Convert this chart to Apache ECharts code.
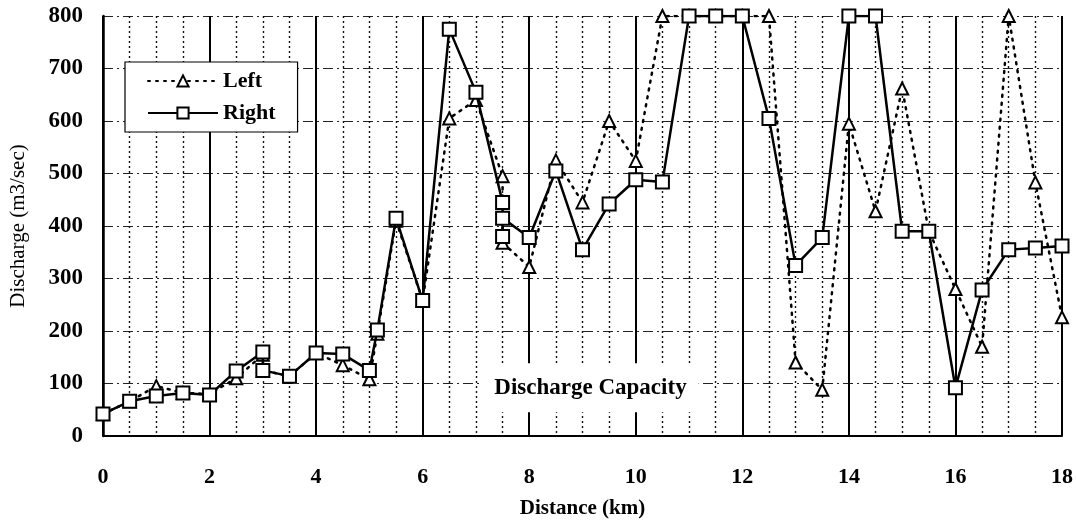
<!DOCTYPE html>
<html>
<head>
<meta charset="utf-8">
<script src="https://cdn.jsdelivr.net/npm/echarts@6/dist/echarts.min.js"></script>
<style>html,body{margin:0;padding:0;background:#fff;}#c{width:1076px;height:526px;}</style>
</head>
<body>
<div id="c"></div>
<script>
// Data
const leftDistance  = [0, 0.5, 1, 1.5, 2, 2.5, 3, 3, 3.5, 4, 4.5, 5, 5.15, 5.5, 6, 6.5, 7, 7.5, 7.5, 8, 8.5, 9, 9.5, 10, 10.5, 11, 11.5, 12, 12.5, 13, 13.5, 14, 14.5, 15, 15.5, 16, 16.5, 17, 17.5, 18];
const leftDischarge = [42, 66, 95, 82, 80, 110, 155, 125, 114, 158, 135, 108, 195, 410, 258, 605, 640, 495, 368, 322, 525, 445, 600, 524, 800, 800, 800, 800, 800, 140, 88, 595, 428, 662, 390, 280, 170, 800, 483, 226];
const rightDistance  = [0, 0.5, 1, 1.5, 2, 2.5, 3, 3, 3.5, 4, 4.5, 5, 5.15, 5.5, 6, 6.5, 7, 7.5, 7.5, 7.5, 8, 8.5, 9, 9.5, 10, 10.5, 11, 11.5, 12, 12.5, 13, 13.5, 14, 14.5, 15, 15.5, 16, 16.5, 17, 17.5, 18];
const rightDischarge = [42, 66, 76, 82, 78, 124, 160, 125, 114, 158, 156, 125, 202, 415, 258, 775, 655, 445, 380, 415, 378, 505, 355, 442, 488, 484, 800, 800, 800, 605, 325, 378, 800, 800, 390, 390, 92, 278, 355, 358, 362];
const seriesNames = ['Left', 'Right'];
const xTitle = 'Distance (km)';
const yTitle = 'Discharge (m3/sec)';
const noteText = 'Discharge Capacity';

const leftData = leftDistance.map((d, i) => [d, leftDischarge[i]]);
const rightData = rightDistance.map((d, i) => [d, rightDischarge[i]]);

const FONT = '"Liberation Serif", "DejaVu Serif", serif';
const chart = echarts.init(document.getElementById('c'), null, {renderer: 'canvas'});

chart.setOption({
  animation: false,
  backgroundColor: '#fff',
  grid: {left: 103, right: 13, top: 16, bottom: 90},
  legend: {
    orient: 'vertical',
    left: 125, top: 62,
    data: seriesNames,
    backgroundColor: '#fff',
    borderColor: '#000', borderWidth: 1.2,
    padding: [8, 22, 8, 22],
    itemGap: 10,
    itemWidth: 70, itemHeight: 14,
    textStyle: {fontFamily: FONT, fontSize: 22, fontWeight: 'bold', color: '#000', lineHeight: 22}
  },
  xAxis: {
    type: 'value', min: 0, max: 18, interval: 2,
    name: xTitle, nameLocation: 'middle', nameGap: 62,
    nameTextStyle: {fontFamily: FONT, fontSize: 21, fontWeight: 'bold', color: '#000'},
    axisLine: {show: true, lineStyle: {color: '#000', width: 2}},
    axisTick: {show: false},
    axisLabel: {fontFamily: FONT, fontSize: 22, fontWeight: 'bold', color: '#000', margin: 30},
    splitLine: {show: true, lineStyle: {color: '#000', width: 2, type: 'solid'}},
    minorTick: {show: false, splitNumber: 4},
    minorSplitLine: {show: true, lineStyle: {color: '#111', width: 1.4, type: [2, 3]}}
  },
  yAxis: {
    type: 'value', min: 0, max: 800, interval: 100,
    name: yTitle, nameLocation: 'middle', nameGap: 74,
    nameTextStyle: {fontFamily: FONT, fontSize: 21, color: '#000'},
    axisLine: {show: true, lineStyle: {color: '#000', width: 2.5}},
    axisTick: {show: false},
    axisLabel: {fontFamily: FONT, fontSize: 23, fontWeight: 'bold', color: '#000', margin: 20},
    splitLine: {show: true, lineStyle: {color: '#222', width: 1.2, type: [10, 4, 2, 4]}}
  },
  series: [
    {
      name: seriesNames[0], type: 'line', data: leftData,
      symbol: 'triangle', symbolSize: 12,
      lineStyle: {color: '#000', width: 2.5, type: [2, 6], cap: 'round'},
      itemStyle: {color: '#fff', borderColor: '#000', borderWidth: 2},
      z: 3
    },
    {
      name: seriesNames[1], type: 'line', data: rightData,
      symbol: 'rect', symbolSize: 13,
      lineStyle: {color: '#000', width: 2.5, type: 'solid'},
      itemStyle: {color: '#fff', borderColor: '#000', borderWidth: 2},
      z: 4
    }
  ]
});

const p = chart.convertToPixel({gridIndex: 0}, [9.15, 92]);
chart.setOption({
  graphic: [{
    type: 'text', x: p[0], y: p[1], z: 10,
    style: {
      text: noteText, fontFamily: FONT, fontSize: 23, fontWeight: 'bold', fill: '#000',
      align: 'center', verticalAlign: 'middle',
      backgroundColor: '#fff', padding: [13, 12]
    }
  }]
});
</script>
</body>
</html>
